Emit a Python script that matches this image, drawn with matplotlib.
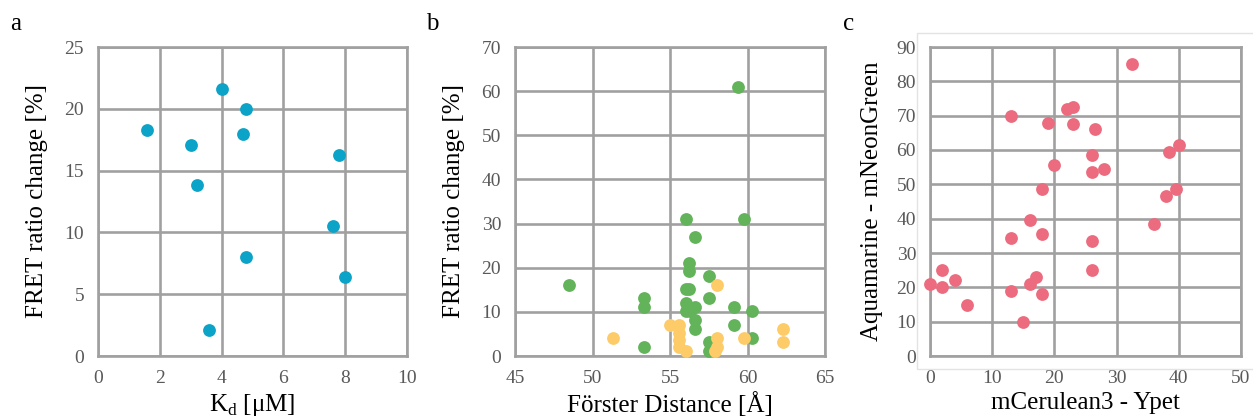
import numpy as np
import matplotlib
matplotlib.use("Agg")
from matplotlib import pyplot as plt
from matplotlib.patches import Rectangle

plt.rcParams['font.family'] = ['Liberation Serif', 'DejaVu Serif']

# panel a: Kd vs FRET ratio change
kd = [1.6, 4.0, 4.8, 4.7, 3.0, 3.2, 7.8, 7.6, 4.8, 8.0, 3.6]
fret_a = [18.3, 21.6, 20.0, 18.0, 17.1, 13.8, 16.3, 10.5, 8.0, 6.4, 2.1]

# panel b: Forster distance vs FRET ratio change
r0_green = [48.5, 59.4, 56.0, 59.8, 56.6, 56.2, 56.2, 57.5, 56.0, 56.2, 57.5,
            53.3, 53.3, 56.0, 56.6, 56.0, 56.3, 59.1, 60.3, 56.6, 56.6, 59.1,
            53.3, 57.5, 57.5, 60.3]
fret_green = [16.1, 61.0, 31.1, 31.1, 27.0, 21.1, 19.2, 18.1, 15.1, 15.1, 13.1,
              13.2, 11.1, 12.1, 11.1, 10.1, 10.2, 11.1, 10.1, 8.2, 6.2, 7.1,
              2.1, 3.1, 1.1, 4.1]
r0_yellow = [51.3, 55.0, 55.6, 55.6, 55.6, 55.6, 56.0, 58.0, 58.0, 58.0, 57.9,
             59.8, 62.3, 62.3]
fret_yellow = [4.1, 7.1, 7.1, 5.1, 3.6, 2.1, 1.1, 16.1, 4.1, 2.1, 1.1,
               4.1, 6.1, 3.1]

# panel c: mCerulean3-Ypet vs Aquamarine-mNeonGreen
cer_ypet = [0, 2, 2, 4, 6, 13, 13, 13, 15, 16, 16, 17, 18, 18, 18, 19, 20,
            22, 23, 23, 26, 26, 26, 26, 26.6, 28, 32.5, 36, 38, 38.5, 39.5, 40]
aqua_neon = [21, 25, 20, 22, 15, 70, 34.5, 19, 10, 39.5, 21, 23, 48.5, 35.5, 18,
             68, 55.5, 72, 72.5, 67.5, 58.5, 53.5, 33.5, 25, 66, 54.5, 85, 38.5,
             46.5, 59.5, 48.5, 61.5]

grid_col = '#a0a0a0'
tick_col = '#595959'

fig = plt.figure(figsize=(12.53, 4.19), dpi=100)

# light frame around the third chart
fig.patches.append(Rectangle((917 / 1253, 1 - 369 / 419), 0.3, (369 - 33) / 419,
                             transform=fig.transFigure, fill=False,
                             edgecolor='#e3e3e3', linewidth=1.0, zorder=0))

ax_a = fig.add_axes([98 / 1253, 1 - 356 / 419, 309 / 1253, 309 / 419])
ax_b = fig.add_axes([515 / 1253, 1 - 356 / 419, 310 / 1253, 309 / 419])
ax_c = fig.add_axes([930 / 1253, 1 - 356 / 419, 311 / 1253, 309 / 419])


def style(ax):
    ax.grid(True, color=grid_col, linewidth=1.9)
    ax.set_axisbelow(True)
    for sp in ax.spines.values():
        sp.set_color(grid_col)
        sp.set_linewidth(1.9)
    ax.tick_params(length=0, pad=10, labelsize=14, colors=tick_col)


ax_a.scatter(kd, fret_a, s=85, color='#0ba3c8', zorder=3, linewidths=0, clip_on=False)
ax_a.set_xlim(0, 10)
ax_a.set_ylim(0, 25)
ax_a.set_xticks(np.arange(0, 11, 2))
ax_a.set_yticks(np.arange(0, 26, 5))
ax_a.set_ylabel('FRET ratio change [%]', fontsize=18, labelpad=12)
ax_a.set_xlabel(r'K$_\mathregular{d}$ [μM]', fontsize=18, labelpad=4)
style(ax_a)

ax_b.scatter(r0_green, fret_green, s=85, color='#62b35a', zorder=3, linewidths=0, clip_on=False)
ax_b.scatter(r0_yellow, fret_yellow, s=85, color='#fdcb67', zorder=3, linewidths=0, clip_on=False)
ax_b.set_xlim(45, 65)
ax_b.set_ylim(0, 70)
ax_b.set_xticks(np.arange(45, 66, 5))
ax_b.set_yticks(np.arange(0, 71, 10))
ax_b.set_ylabel('FRET ratio change [%]', fontsize=18, labelpad=12)
ax_b.set_xlabel('Förster Distance [Å]', fontsize=18, labelpad=4)
style(ax_b)

ax_c.scatter(cer_ypet, aqua_neon, s=85, color='#ec6b7e', zorder=3, linewidths=0, clip_on=False)
ax_c.set_xlim(0, 50)
ax_c.set_ylim(0, 90)
ax_c.set_xticks(np.arange(0, 51, 10))
ax_c.set_yticks(np.arange(0, 91, 10))
ax_c.set_ylabel('Aquamarine - mNeonGreen', fontsize=18, labelpad=10)
ax_c.set_xlabel('mCerulean3 - Ypet', fontsize=18, labelpad=4)
style(ax_c)

fig.text(10 / 1253, 1 - 30 / 419, 'a', fontsize=18)
fig.text(426 / 1253, 1 - 30 / 419, 'b', fontsize=18)
fig.text(843 / 1253, 1 - 30 / 419, 'c', fontsize=18)

fig.savefig('out.png', dpi=100)
